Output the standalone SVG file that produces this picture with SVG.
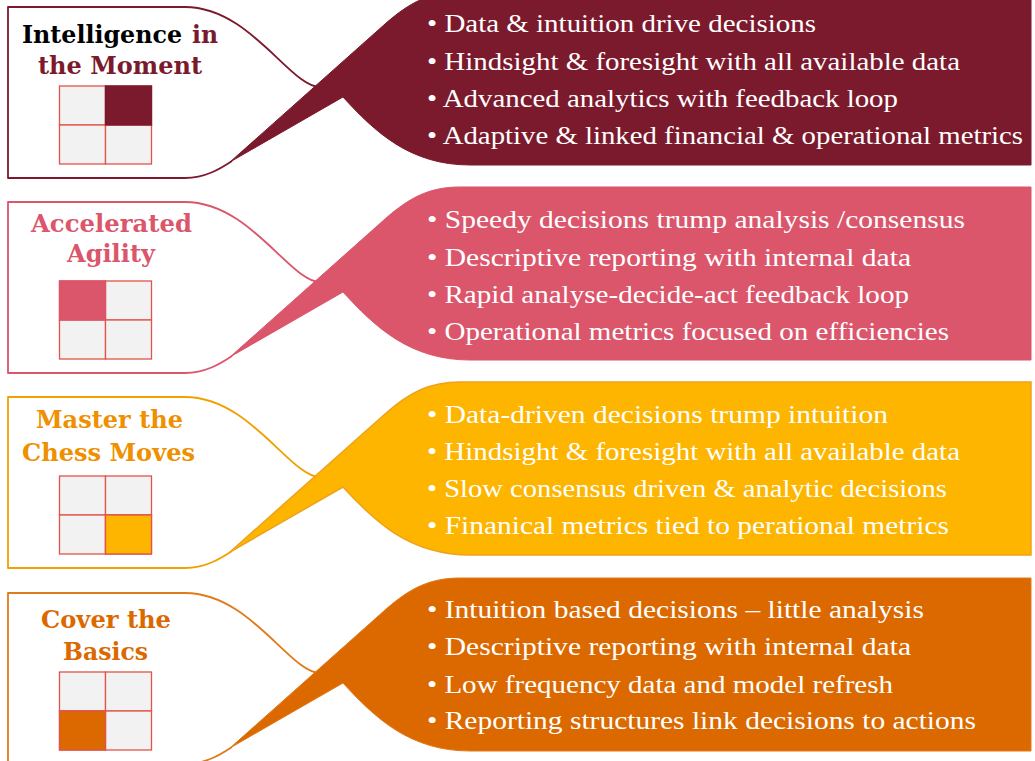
<svg xmlns="http://www.w3.org/2000/svg" xmlns:xlink="http://www.w3.org/1999/xlink" width="1035" height="761" viewBox="0 0 1035 761">
<style>
.outline{fill:none;stroke-width:1.8;stroke-linejoin:round}
.cell{fill:#f2f2f2;stroke:#e0544a;stroke-width:1.3}
.title{font-family:"DejaVu Serif","Liberation Serif",serif;font-weight:bold;font-size:25px}
.bul{font-family:"Liberation Serif","Times New Roman",serif;font-size:26px;fill:#ffffff}
.c1{fill:#7b1a2c}.s1{stroke:#7b1a2c}
.c2{fill:#db556b}.s2{stroke:#db556b}
.c3{fill:#feb500}.s3{stroke:#f0a000}
.c4{fill:#db6900}.s4{stroke:#e07a1a}
</style>
<defs>
<path id="wave" d="M 230,155 L 385,17 C 410,-5 430,-15 460,-15 L 1031,-15 L 1031,158 L 470,158 C 410,158 375,125 343,90 Z"/>
<path id="frame" d="M 320,80 C 290,80 250,0 185,0 L 8,0 L 8,171 L 185,171 C 205,171 220,162 232,154"/>
<g id="grid">
<rect x="59.5" y="79" width="46" height="39"/>
<rect x="105.5" y="79" width="46" height="39"/>
<rect x="59.5" y="118" width="46" height="39"/>
<rect x="105.5" y="118" width="46" height="39"/>
</g>
</defs>

<g id="panel-intelligence">
<use href="#frame" class="outline s1" transform="translate(0,7)"/>
<use href="#wave" class="c1" stroke="#7b1a2c" stroke-width="1" transform="translate(0,7)"/>
<use href="#grid" class="cell" transform="translate(0,7)"/>
<rect x="105.5" y="86" width="46" height="39" class="c1" stroke="#7b1a2c" stroke-width="1.3"/>
<text class="title" x="22" y="43" fill="#000000" textLength="160" lengthAdjust="spacingAndGlyphs">Intelligence</text>
<text class="title c1" x="192" y="43" textLength="26" lengthAdjust="spacingAndGlyphs">in</text>
<text class="title c1" x="38" y="74" textLength="164" lengthAdjust="spacingAndGlyphs">the Moment</text>
<text class="bul" x="427" y="32" textLength="389" lengthAdjust="spacingAndGlyphs">• Data &amp; intuition drive decisions</text>
<text class="bul" x="427" y="70" textLength="533" lengthAdjust="spacingAndGlyphs">• Hindsight &amp; foresight with all available data</text>
<text class="bul" x="427" y="107" textLength="471" lengthAdjust="spacingAndGlyphs">• Advanced analytics with feedback loop</text>
<text class="bul" x="427" y="144" textLength="596" lengthAdjust="spacingAndGlyphs">• Adaptive &amp; linked financial &amp; operational metrics</text>
</g>

<g id="panel-agility">
<use href="#frame" class="outline s2" transform="translate(0,202)"/>
<use href="#wave" class="c2" stroke="#db556b" stroke-width="1" transform="translate(0,202)"/>
<use href="#grid" class="cell" transform="translate(0,202)"/>
<rect x="59.5" y="281" width="46" height="39" class="c2" stroke="#db556b" stroke-width="1.3"/>
<text class="title c2" x="31" y="232" textLength="161" lengthAdjust="spacingAndGlyphs">Accelerated</text>
<text class="title c2" x="67" y="262" textLength="88" lengthAdjust="spacingAndGlyphs">Agility</text>
<text class="bul" x="427" y="228" textLength="538" lengthAdjust="spacingAndGlyphs">• Speedy decisions trump analysis /consensus</text>
<text class="bul" x="427" y="266" textLength="484" lengthAdjust="spacingAndGlyphs">• Descriptive reporting with internal data</text>
<text class="bul" x="427" y="303" textLength="482" lengthAdjust="spacingAndGlyphs">• Rapid analyse-decide-act feedback loop</text>
<text class="bul" x="427" y="340" textLength="522" lengthAdjust="spacingAndGlyphs">• Operational metrics focused on efficiencies</text>
</g>

<g id="panel-chess">
<use href="#frame" class="outline s3" transform="translate(0,397)"/>
<use href="#wave" class="c3" stroke="#eea21a" stroke-width="1.5" transform="translate(0,397)"/>
<use href="#grid" class="cell" transform="translate(0,397)"/>
<rect x="105.5" y="515" width="46" height="39" class="c3" stroke="#e0544a" stroke-width="1.3"/>
<text class="title" x="36" y="428" fill="#ee9000" textLength="147" lengthAdjust="spacingAndGlyphs">Master the</text>
<text class="title" x="22" y="461" fill="#ee9000" textLength="173" lengthAdjust="spacingAndGlyphs">Chess Moves</text>
<text class="bul" x="427" y="423" textLength="461" lengthAdjust="spacingAndGlyphs">• Data-driven decisions trump intuition</text>
<text class="bul" x="427" y="460" textLength="533" lengthAdjust="spacingAndGlyphs">• Hindsight &amp; foresight with all available data</text>
<text class="bul" x="427" y="497" textLength="520" lengthAdjust="spacingAndGlyphs">• Slow consensus driven &amp; analytic decisions</text>
<text class="bul" x="427" y="534" textLength="522" lengthAdjust="spacingAndGlyphs">• Finanical metrics tied to perational metrics</text>
</g>

<g id="panel-basics">
<use href="#frame" class="outline s4" transform="translate(0,593)"/>
<use href="#wave" class="c4" stroke="#e07a1a" stroke-width="1" transform="translate(0,593)"/>
<use href="#grid" class="cell" transform="translate(0,593)"/>
<rect x="59.5" y="711" width="46" height="39" class="c4" stroke="#e0544a" stroke-width="1.3"/>
<text class="title c4" x="41" y="628" textLength="130" lengthAdjust="spacingAndGlyphs">Cover the</text>
<text class="title c4" x="63" y="660" textLength="85" lengthAdjust="spacingAndGlyphs">Basics</text>
<text class="bul" x="427" y="618" textLength="497" lengthAdjust="spacingAndGlyphs">• Intuition based decisions – little analysis</text>
<text class="bul" x="427" y="655" textLength="484" lengthAdjust="spacingAndGlyphs">• Descriptive reporting with internal data</text>
<text class="bul" x="427" y="693" textLength="466" lengthAdjust="spacingAndGlyphs">• Low frequency data and model refresh</text>
<text class="bul" x="427" y="729" textLength="549" lengthAdjust="spacingAndGlyphs">• Reporting structures link decisions to actions</text>
</g>
</svg>
